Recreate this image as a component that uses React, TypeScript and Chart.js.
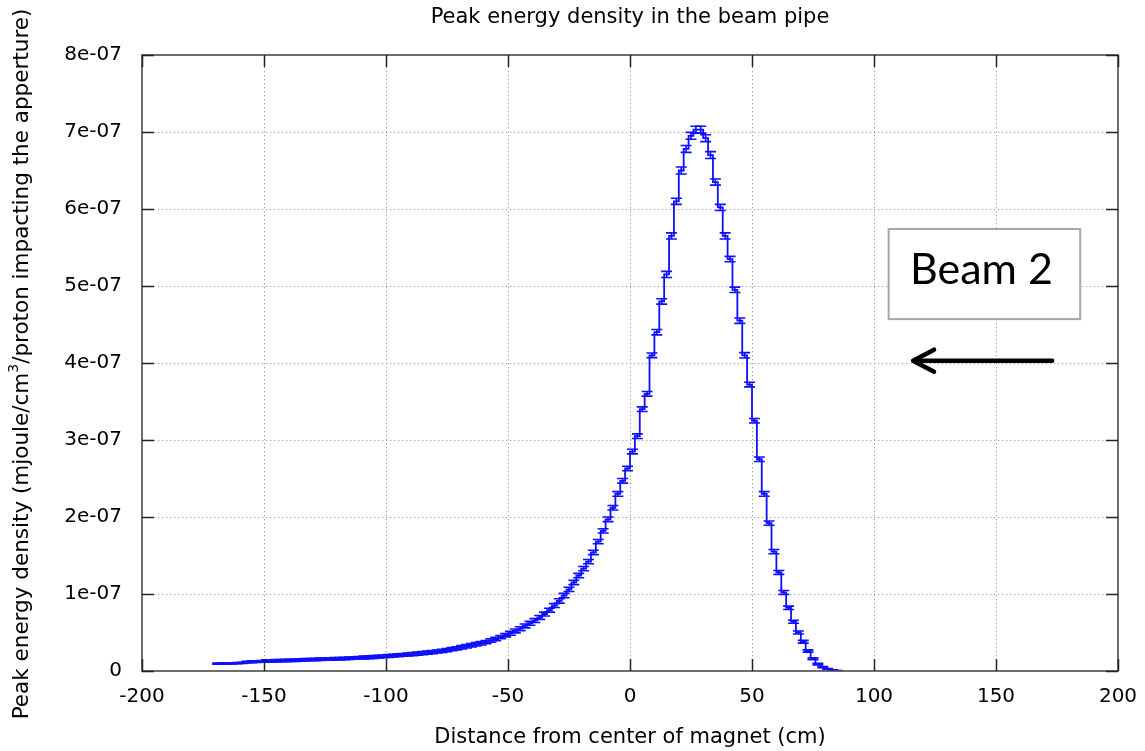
import { useEffect, useRef } from 'react';
import { Chart, registerables } from 'chart.js';

Chart.register(...registerables);

// ---- data ----
const binEdges = [
  -170, -168, -166, -164, -162, -160, -158, -156, -154, -152, -150, -148, -146, -144, -142, -140, -138, -136, -134, -132,
  -130, -128, -126, -124, -122, -120, -118, -116, -114, -112, -110, -108, -106, -104, -102, -100, -98, -96, -94, -92,
  -90, -88, -86, -84, -82, -80, -78, -76, -74, -72, -70, -68, -66, -64, -62, -60, -58, -56, -54, -52,
  -50, -48, -46, -44, -42, -40, -38, -36, -34, -32, -30, -28, -26, -24, -22, -20, -18, -16, -14, -12,
  -10, -8, -6, -4, -2, 0, 2, 4, 6, 8, 10, 12, 14, 16, 18, 20, 22, 24, 26, 28,
  30, 32, 34, 36, 38, 40, 42, 44, 46, 48, 50, 52, 54, 56, 58, 60, 62, 64, 66, 68,
  70, 72, 74, 76, 78, 80, 82, 84, 86,
];

// peak energy density per bin, in units of 1e-07 mjoule/cm3/proton
const peakDensity = [
  0.095, 0.097, 0.1, 0.1, 0.103, 0.105, 0.115, 0.12, 0.122, 0.125,
  0.13, 0.132, 0.133, 0.135, 0.137, 0.138, 0.14, 0.143, 0.146, 0.148,
  0.15, 0.152, 0.155, 0.157, 0.158, 0.16, 0.162, 0.165, 0.168, 0.171,
  0.175, 0.178, 0.182, 0.186, 0.19, 0.195, 0.2, 0.205, 0.21, 0.215,
  0.22, 0.226, 0.232, 0.238, 0.245, 0.253, 0.262, 0.272, 0.283, 0.295,
  0.307, 0.32, 0.333, 0.347, 0.36, 0.375, 0.395, 0.415, 0.44, 0.465,
  0.49, 0.52, 0.55, 0.585, 0.62, 0.655, 0.695, 0.74, 0.79, 0.85,
  0.91, 0.98, 1.06, 1.15, 1.24, 1.33, 1.42, 1.54, 1.68, 1.82,
  1.97, 2.12, 2.3, 2.47, 2.63, 2.85, 3.05, 3.4, 3.6, 4.1,
  4.4, 4.8, 5.15, 5.65, 6.1, 6.5, 6.78, 6.95, 7.03, 7.03,
  6.92, 6.7, 6.35, 6.02, 5.65, 5.35, 4.95, 4.55, 4.1, 3.72,
  3.25, 2.75, 2.3, 1.92, 1.55, 1.28, 1.02, 0.82, 0.64, 0.5,
  0.38, 0.26, 0.16, 0.09, 0.05, 0.025, 0.01, 0.004,
];

// statistical error per bin, same units
const peakError = [
  0.008, 0.008, 0.008, 0.008, 0.008, 0.008, 0.012, 0.012, 0.012, 0.012,
  0.015, 0.015, 0.015, 0.015, 0.015, 0.015, 0.015, 0.015, 0.015, 0.015,
  0.016, 0.016, 0.016, 0.016, 0.016, 0.016, 0.016, 0.016, 0.016, 0.016,
  0.018, 0.018, 0.018, 0.018, 0.018, 0.018, 0.018, 0.018, 0.018, 0.018,
  0.02, 0.02, 0.02, 0.02, 0.02, 0.02, 0.02, 0.02, 0.02, 0.02,
  0.022, 0.022, 0.022, 0.022, 0.022, 0.022, 0.022, 0.022, 0.022, 0.022,
  0.025, 0.025, 0.025, 0.025, 0.025, 0.025, 0.025, 0.025, 0.025, 0.025,
  0.028, 0.028, 0.028, 0.028, 0.028, 0.028, 0.028, 0.028, 0.028, 0.028,
  0.03, 0.03, 0.03, 0.03, 0.03, 0.03, 0.03, 0.03, 0.03, 0.03,
  0.035, 0.035, 0.04, 0.04, 0.04, 0.045, 0.045, 0.045, 0.045, 0.045,
  0.045, 0.045, 0.04, 0.04, 0.04, 0.035, 0.035, 0.035, 0.035, 0.03,
  0.03, 0.03, 0.03, 0.028, 0.028, 0.025, 0.025, 0.022, 0.02, 0.02,
  0.018, 0.015, 0.012, 0.01, 0.008, 0.006, 0.004, 0.003,
];

const xTicks = [-200, -150, -100, -50, 0, 50, 100, 150, 200];
const yTicks = [0, 1, 2, 3, 4, 5, 6, 7, 8];
const yTickLabels = ['0', '1e-07', '2e-07', '3e-07', '4e-07', '5e-07', '6e-07', '7e-07', '8e-07'];

const TITLE = 'Peak energy density in the beam pipe';
const X_TITLE = 'Distance from center of magnet (cm)';
const Y_TITLE_PARTS = ['Peak energy density (mjoule/cm', '3', '/proton impacting the apperture)'];
const BEAM_LABEL = 'Beam 2';

// annotation placement in data units
const beamBox = { x0: 106, x1: 184.5, y0: 4.57, y1: 5.74 };
const beamArrow = { from: 173, to: 116, y: 4.03 };

const FONT = '"DejaVu Sans", Verdana, sans-serif';
const BLUE = 'rgb(15,15,255)';

const gnuplotPlugin = {
  id: 'gnuplotFrame',
  beforeDatasetsDraw(chart: any) {
    const { ctx, chartArea: a, scales } = chart;
    const x = scales.x;
    const y = scales.y;
    ctx.save();
    ctx.strokeStyle = '#a0a0a0';
    ctx.lineWidth = 1;
    ctx.setLineDash([1.3, 2.7]);
    xTicks.slice(1, -1).forEach((v) => {
      const px = Math.round(x.getPixelForValue(v)) + 0.5;
      ctx.beginPath();
      ctx.moveTo(px, a.top);
      ctx.lineTo(px, a.bottom);
      ctx.stroke();
    });
    yTicks.slice(1, -1).forEach((v) => {
      const py = Math.round(y.getPixelForValue(v)) + 0.5;
      ctx.beginPath();
      ctx.moveTo(a.left, py);
      ctx.lineTo(a.right, py);
      ctx.stroke();
    });
    ctx.restore();
  },
  afterDatasetsDraw(chart: any) {
    const { ctx, chartArea: a, scales } = chart;
    const x = scales.x;
    const y = scales.y;
    // error bars
    ctx.save();
    ctx.beginPath();
    ctx.rect(a.left, a.top, a.right - a.left, a.bottom - a.top);
    ctx.clip();
    ctx.strokeStyle = BLUE;
    ctx.lineWidth = 1.6;
    peakDensity.forEach((v, i) => {
      const c = (binEdges[i] + binEdges[i + 1]) / 2;
      const px = x.getPixelForValue(c);
      const lo = y.getPixelForValue(v - peakError[i]);
      const hi = y.getPixelForValue(v + peakError[i]);
      ctx.beginPath();
      ctx.moveTo(px, lo);
      ctx.lineTo(px, hi);
      ctx.moveTo(px - 5.5, lo);
      ctx.lineTo(px + 5.5, lo);
      ctx.moveTo(px - 5.5, hi);
      ctx.lineTo(px + 5.5, hi);
      ctx.stroke();
    });
    ctx.restore();

    // border and inward ticks
    ctx.save();
    ctx.strokeStyle = '#4a4a4a';
    ctx.lineWidth = 1.6;
    ctx.strokeRect(a.left, a.top, a.right - a.left, a.bottom - a.top);
    ctx.strokeStyle = '#222';
    ctx.lineWidth = 1.5;
    const tl = 12;
    xTicks.forEach((v) => {
      const px = Math.round(x.getPixelForValue(v)) + 0.5;
      ctx.beginPath();
      ctx.moveTo(px, a.bottom);
      ctx.lineTo(px, a.bottom - tl);
      ctx.moveTo(px, a.top);
      ctx.lineTo(px, a.top + tl);
      ctx.stroke();
    });
    yTicks.forEach((v) => {
      const py = Math.round(y.getPixelForValue(v)) + 0.5;
      ctx.beginPath();
      ctx.moveTo(a.left, py);
      ctx.lineTo(a.left + tl, py);
      ctx.moveTo(a.right, py);
      ctx.lineTo(a.right - tl, py);
      ctx.stroke();
    });
    ctx.restore();
  },
  afterDraw(chart: any) {
    const { ctx, chartArea: a, scales } = chart;
    const x = scales.x;
    const y = scales.y;
    const cx = (a.left + a.right) / 2;
    ctx.save();
    ctx.fillStyle = '#000';
    ctx.textAlign = 'center';
    ctx.textBaseline = 'middle';
    ctx.font = `21px ${FONT}`;
    ctx.fillText(TITLE, cx, 18);
    ctx.font = `21px ${FONT}`;
    ctx.fillText(X_TITLE, cx, 738);

    // rotated y title with superscript
    const mainFont = `21.5px ${FONT}`;
    const supFont = `14px ${FONT}`;
    ctx.font = mainFont;
    const w0 = ctx.measureText(Y_TITLE_PARTS[0]).width;
    const w2 = ctx.measureText(Y_TITLE_PARTS[2]).width;
    ctx.font = supFont;
    const w1 = ctx.measureText(Y_TITLE_PARTS[1]).width;
    const total = w0 + w1 + w2;
    ctx.translate(22, 364);
    ctx.rotate(-Math.PI / 2);
    ctx.textAlign = 'left';
    let sx = -total / 2;
    ctx.font = mainFont;
    ctx.fillText(Y_TITLE_PARTS[0], sx, 0);
    sx += w0;
    ctx.font = supFont;
    ctx.fillText(Y_TITLE_PARTS[1], sx, -8);
    sx += w1;
    ctx.font = mainFont;
    ctx.fillText(Y_TITLE_PARTS[2], sx, 0);
    ctx.restore();

    // Beam 2 box
    ctx.save();
    const bx0 = x.getPixelForValue(beamBox.x0);
    const bx1 = x.getPixelForValue(beamBox.x1);
    const by0 = y.getPixelForValue(beamBox.y1);
    const by1 = y.getPixelForValue(beamBox.y0);
    ctx.fillStyle = '#fff';
    ctx.fillRect(bx0, by0, bx1 - bx0, by1 - by0);
    ctx.strokeStyle = '#a6a6a6';
    ctx.lineWidth = 2;
    ctx.strokeRect(bx0, by0, bx1 - bx0, by1 - by0);
    ctx.fillStyle = '#000';
    ctx.font = `43px Lato, "Open Sans", sans-serif`;
    ctx.textAlign = 'center';
    ctx.textBaseline = 'alphabetic';
    ctx.fillText(BEAM_LABEL, (bx0 + bx1) / 2 - 3, by0 + 55);

    // arrow
    const ax0 = x.getPixelForValue(beamArrow.from);
    const ax1 = x.getPixelForValue(beamArrow.to);
    const ay = y.getPixelForValue(beamArrow.y);
    ctx.strokeStyle = '#000';
    ctx.lineWidth = 4.5;
    ctx.lineCap = 'round';
    ctx.lineJoin = 'round';
    ctx.beginPath();
    ctx.moveTo(ax0, ay);
    ctx.lineTo(ax1 + 2, ay);
    ctx.stroke();
    ctx.beginPath();
    ctx.moveTo(ax1 + 21, ay - 11);
    ctx.lineTo(ax1, ay);
    ctx.lineTo(ax1 + 21, ay + 11);
    ctx.stroke();
    ctx.restore();
  },
};

export default function App() {
  const ref = useRef<HTMLCanvasElement>(null);
  useEffect(() => {
    if (!ref.current) return;
    const points = binEdges.map((e, i) => ({
      x: e,
      y: peakDensity[Math.min(i, peakDensity.length - 1)],
    }));
    const chart = new Chart(ref.current, {
      type: 'line',
      data: {
        datasets: [
          {
            data: points,
            stepped: 'before',
            borderColor: BLUE,
            borderWidth: 1.8,
            pointRadius: 0,
            fill: false,
            tension: 0,
          },
        ],
      },
      options: {
        responsive: false,
        animation: false,
        devicePixelRatio: 1,
        layout: { padding: { top: 55, right: 27, left: 0, bottom: 0 } },
        plugins: {
          legend: { display: false },
          tooltip: { enabled: false },
          title: { display: false },
        },
        scales: {
          x: {
            type: 'linear',
            min: -200,
            max: 200,
            afterBuildTicks: (s: any) => {
              s.ticks = xTicks.map((v) => ({ value: v }));
            },
            afterFit: (s: any) => {
              s.height = 80;
              s.paddingLeft = 0;
              s.paddingRight = 0;
            },
            grid: { display: false, drawTicks: false },
            border: { display: false },
            ticks: {
              font: { family: FONT, size: 20 },
              color: '#000',
              padding: 14,
              maxRotation: 0,
              autoSkip: false,
              callback: (v: any) => String(v),
            },
          },
          y: {
            type: 'linear',
            min: 0,
            max: 8,
            afterBuildTicks: (s: any) => {
              s.ticks = yTicks.map((v) => ({ value: v }));
            },
            afterFit: (s: any) => {
              s.width = 142;
              s.paddingTop = 0;
              s.paddingBottom = 0;
            },
            grid: { display: false, drawTicks: false },
            border: { display: false },
            ticks: {
              font: { family: FONT, size: 20 },
              color: '#000',
              padding: 20,
              autoSkip: false,
              callback: (v: any) => yTickLabels[yTicks.indexOf(Math.round(v))],
            },
          },
        },
      },
      plugins: [gnuplotPlugin],
    } as any);
    return () => chart.destroy();
  }, []);
  return (
    <div style={{ position: 'absolute', left: 0, top: 0, width: 1145, height: 751, background: '#fff' }}>
      <canvas ref={ref} width={1145} height={751} style={{ display: 'block' }} />
    </div>
  );
}
